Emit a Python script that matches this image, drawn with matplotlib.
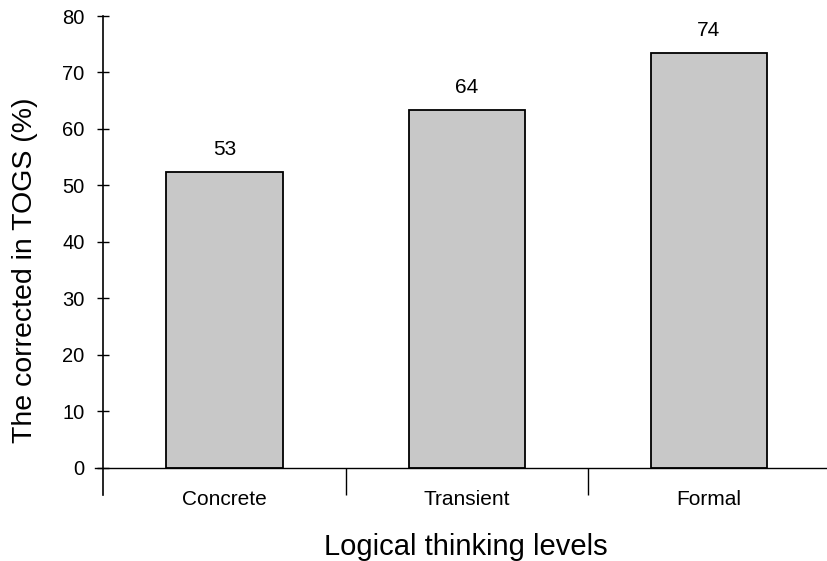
import matplotlib.pyplot as plt

levels = ['Concrete', 'Transient', 'Formal']
percent = [52.3, 63.4, 73.4]
shown = ['53', '64', '74']

plt.rcParams['font.family'] = ['Liberation Sans', 'DejaVu Sans']

fig = plt.figure(figsize=(8.28, 5.61), dpi=100)
ax = fig.add_axes([95 / 828, 66 / 561, 735 / 828, 479 / 561])

x = range(len(levels))
bars = ax.bar(x, percent, width=0.48, color='#c8c8c8', edgecolor='black', linewidth=1.3)
for b, s in zip(bars, shown):
    ax.text(b.get_x() + b.get_width() / 2, b.get_height() + 2.3, s,
            ha='center', va='bottom', fontsize=15)

ax.set_xlim(-0.535, 2.5)
ax.set_ylim(-4.8, 80)
ax.spines['left'].set_position(('data', -0.5))
ax.spines['bottom'].set_position(('data', 0))
ax.spines['top'].set_visible(False)
ax.spines['right'].set_visible(False)
ax.spines['left'].set_linewidth(1.2)
ax.spines['bottom'].set_linewidth(1.0)

ax.set_yticks(range(0, 81, 10))
ax.tick_params(axis='y', direction='inout', length=9, width=1, labelsize=14.5, pad=9)
ax.set_xticks(list(x))
ax.set_xticklabels(levels)
ax.set_xticks([0.5, 1.5], minor=True)
ax.tick_params(axis='x', which='major', length=0, labelsize=15, pad=16)
ax.tick_params(axis='x', which='minor', direction='out', length=19.5, width=1)

ax.set_ylabel('The corrected in TOGS (%)', fontsize=20.5)
ax.yaxis.set_label_coords(-0.078, 0.47)
ax.set_xlabel('Logical thinking levels', fontsize=21)
ax.xaxis.set_label_coords(0.505, -0.08)

fig.savefig('out.png', dpi=100)
